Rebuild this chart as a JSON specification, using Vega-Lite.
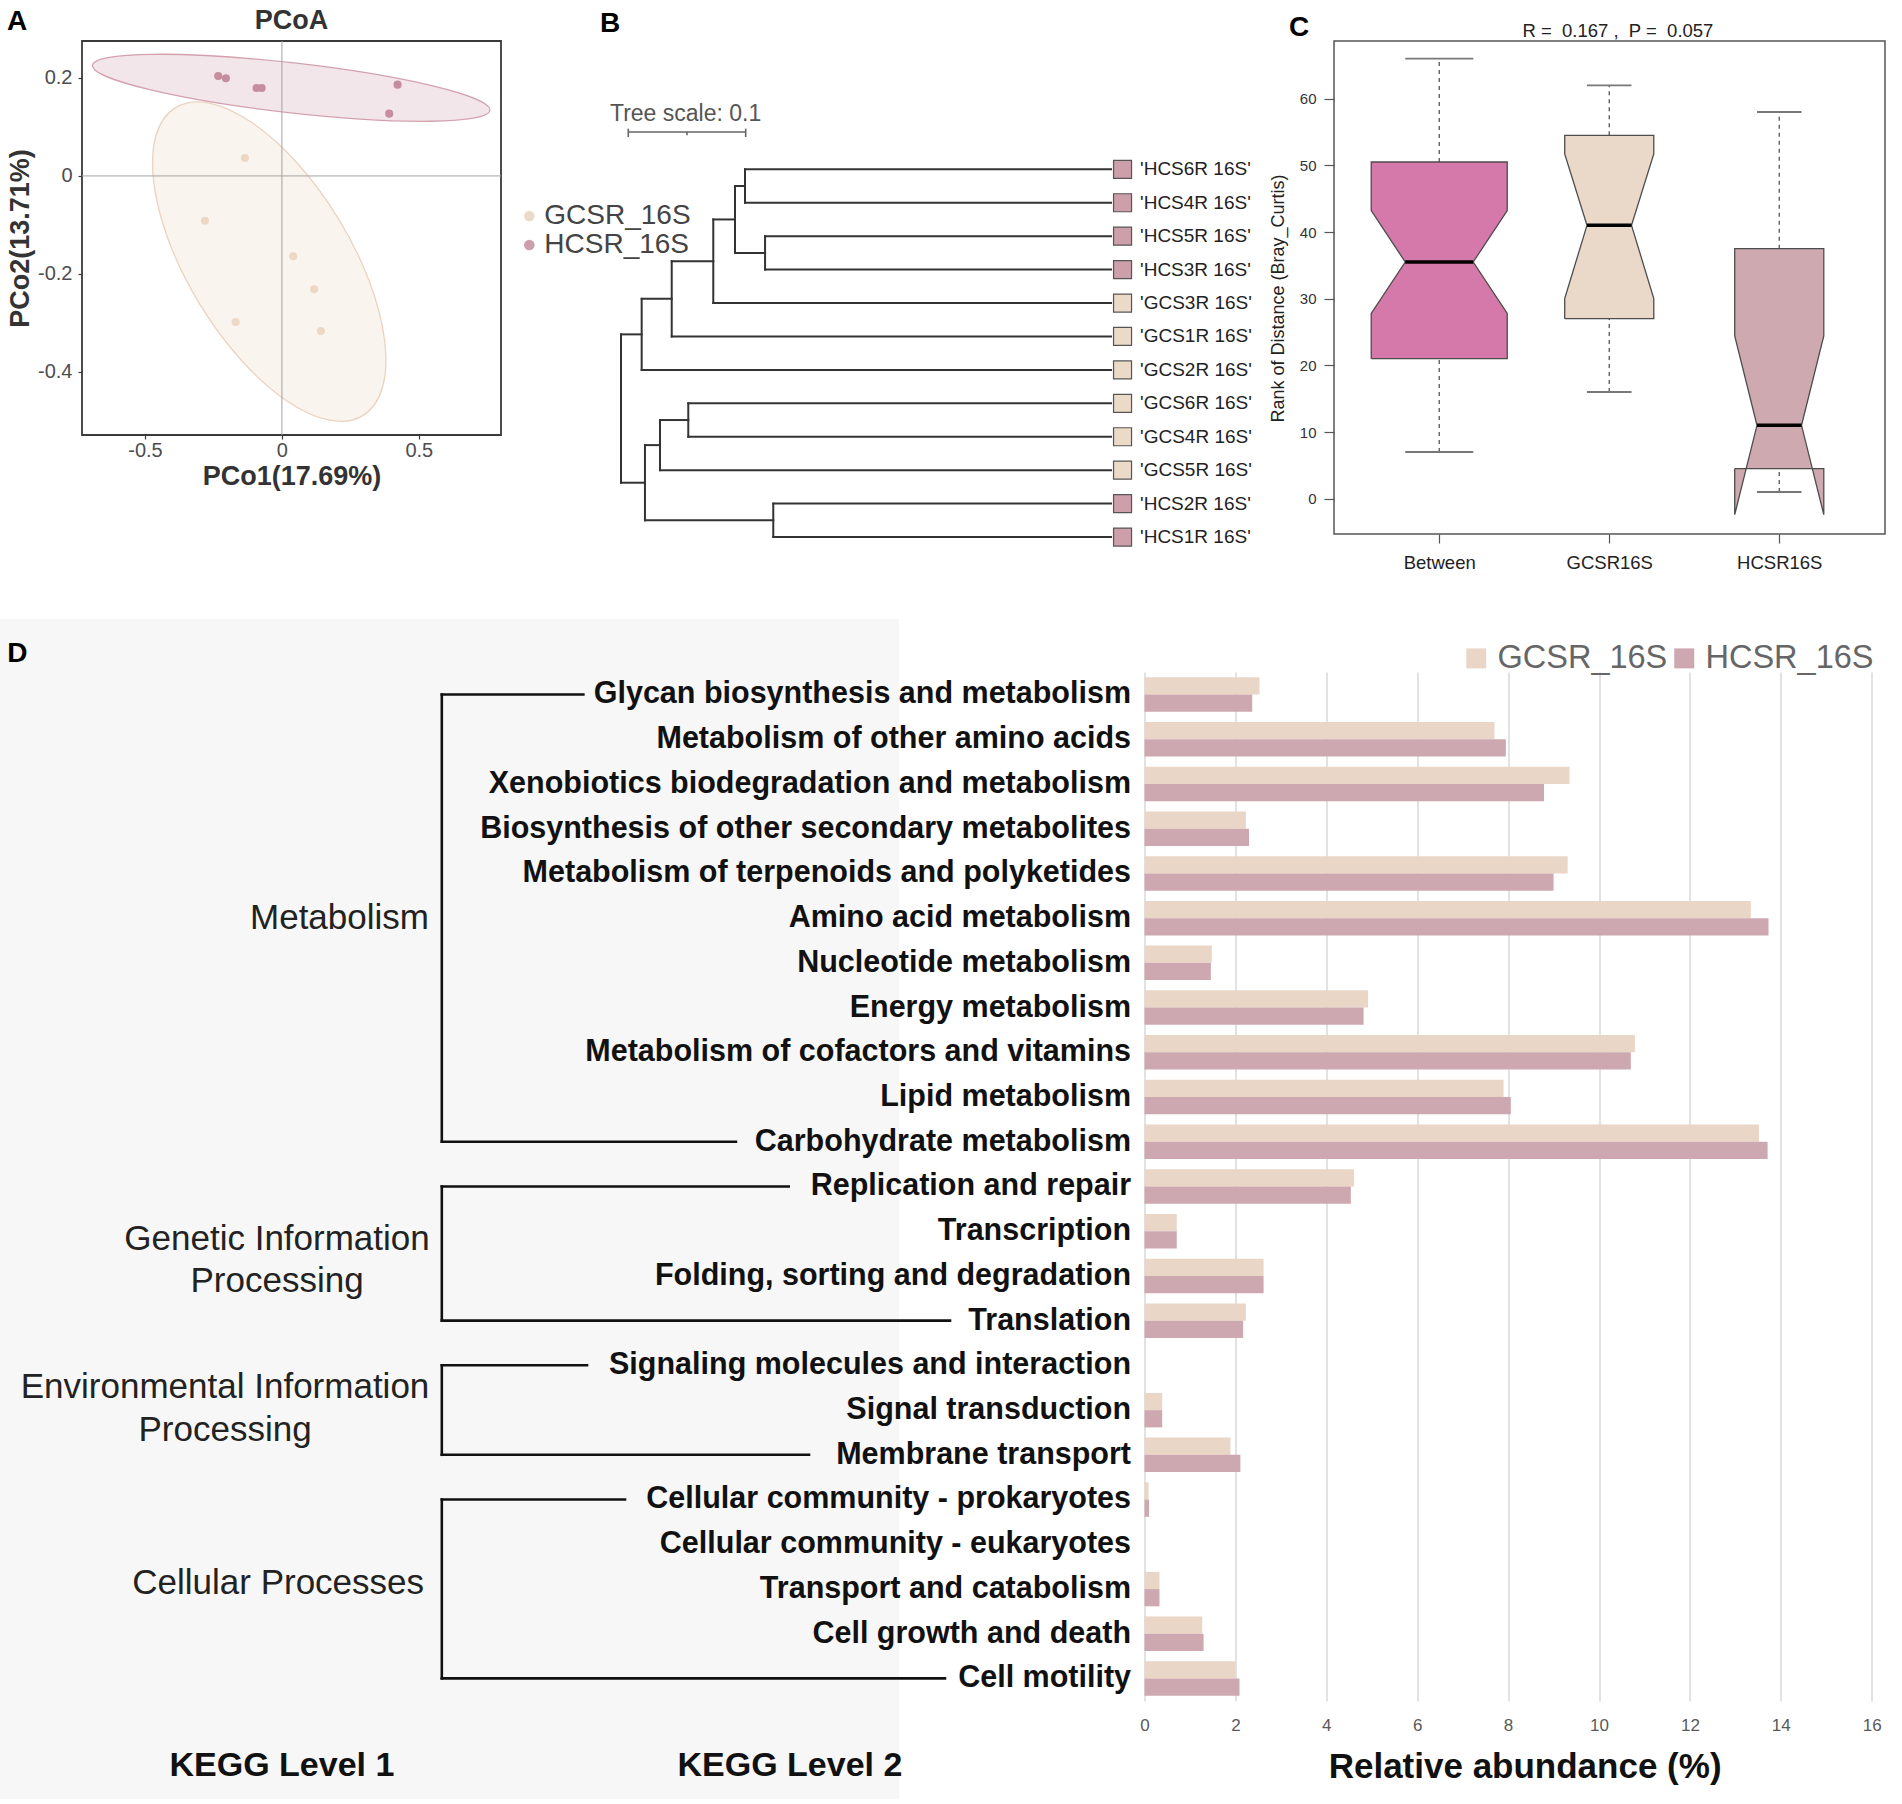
{
  "background": "white",
  "padding": {"left": 0, "top": 5, "right": 5, "bottom": 5},
  "config": {
    "font": "Liberation Sans",
    "view": {"stroke": null},
    "axis": {"labelFont": "Liberation Sans", "titleFont": "Liberation Sans"},
    "legend": {"labelFont": "Liberation Sans", "titleFont": "Liberation Sans"},
    "text": {"font": "Liberation Sans"}
  },
  "datasets": {
    "pcoa": [
      {"g": "HCSR_16S", "x": -0.2326, "y": 0.2041},
      {"g": "HCSR_16S", "x": -0.2045, "y": 0.1994},
      {"g": "HCSR_16S", "x": -0.0924, "y": 0.1796},
      {"g": "HCSR_16S", "x": -0.0741, "y": 0.1796},
      {"g": "HCSR_16S", "x": 0.4224, "y": 0.1863},
      {"g": "HCSR_16S", "x": 0.3918, "y": 0.1271},
      {"g": "GCSR_16S", "x": -0.1351, "y": 0.0366},
      {"g": "GCSR_16S", "x": -0.2811, "y": -0.0914},
      {"g": "GCSR_16S", "x": 0.0413, "y": -0.1641},
      {"g": "GCSR_16S", "x": 0.1179, "y": -0.2315},
      {"g": "GCSR_16S", "x": -0.169, "y": -0.2983},
      {"g": "GCSR_16S", "x": 0.1424, "y": -0.3166}
    ],
    "tree": [
      {"x": 0, "x2": 0.0176, "y": 5.9375, "y2": 5.9375},
      {"x": 0, "x2": 0.0204, "y": 10.375, "y2": 10.375},
      {"x": 0.0176, "x2": 0.0432, "y": 4.875, "y2": 4.875},
      {"x": 0.0176, "x2": 0.4174, "y": 7, "y2": 7},
      {"x": 0.0432, "x2": 0.0786, "y": 3.75, "y2": 3.75},
      {"x": 0.0432, "x2": 0.4174, "y": 6, "y2": 6},
      {"x": 0.0786, "x2": 0.0971, "y": 2.5, "y2": 2.5},
      {"x": 0.0786, "x2": 0.4174, "y": 5, "y2": 5},
      {"x": 0.0971, "x2": 0.1056, "y": 1.5, "y2": 1.5},
      {"x": 0.0971, "x2": 0.1227, "y": 3.5, "y2": 3.5},
      {"x": 0.1056, "x2": 0.4174, "y": 1, "y2": 1},
      {"x": 0.1056, "x2": 0.4174, "y": 2, "y2": 2},
      {"x": 0.1227, "x2": 0.4174, "y": 3, "y2": 3},
      {"x": 0.1227, "x2": 0.4174, "y": 4, "y2": 4},
      {"x": 0.0204, "x2": 0.0332, "y": 9.25, "y2": 9.25},
      {"x": 0.0204, "x2": 0.1297, "y": 11.5, "y2": 11.5},
      {"x": 0.0332, "x2": 0.0573, "y": 8.5, "y2": 8.5},
      {"x": 0.0332, "x2": 0.4174, "y": 10, "y2": 10},
      {"x": 0.0573, "x2": 0.4174, "y": 8, "y2": 8},
      {"x": 0.0573, "x2": 0.4174, "y": 9, "y2": 9},
      {"x": 0.1297, "x2": 0.4174, "y": 11, "y2": 11},
      {"x": 0.1297, "x2": 0.4174, "y": 12, "y2": 12},
      {"x": 0, "x2": 0, "y": 5.9375, "y2": 10.375},
      {"x": 0.0176, "x2": 0.0176, "y": 4.875, "y2": 7},
      {"x": 0.0432, "x2": 0.0432, "y": 3.75, "y2": 6},
      {"x": 0.0786, "x2": 0.0786, "y": 2.5, "y2": 5},
      {"x": 0.0971, "x2": 0.0971, "y": 1.5, "y2": 3.5},
      {"x": 0.1056, "x2": 0.1056, "y": 1, "y2": 2},
      {"x": 0.1227, "x2": 0.1227, "y": 3, "y2": 4},
      {"x": 0.0204, "x2": 0.0204, "y": 9.25, "y2": 11.5},
      {"x": 0.0332, "x2": 0.0332, "y": 8.5, "y2": 10},
      {"x": 0.0573, "x2": 0.0573, "y": 8, "y2": 9},
      {"x": 0.1297, "x2": 0.1297, "y": 11, "y2": 12}
    ],
    "tips": [
      {"name": "'HCS6R 16S'", "row": 1, "grp": "HCSR_16S"},
      {"name": "'HCS4R 16S'", "row": 2, "grp": "HCSR_16S"},
      {"name": "'HCS5R 16S'", "row": 3, "grp": "HCSR_16S"},
      {"name": "'HCS3R 16S'", "row": 4, "grp": "HCSR_16S"},
      {"name": "'GCS3R 16S'", "row": 5, "grp": "GCSR_16S"},
      {"name": "'GCS1R 16S'", "row": 6, "grp": "GCSR_16S"},
      {"name": "'GCS2R 16S'", "row": 7, "grp": "GCSR_16S"},
      {"name": "'GCS6R 16S'", "row": 8, "grp": "GCSR_16S"},
      {"name": "'GCS4R 16S'", "row": 9, "grp": "GCSR_16S"},
      {"name": "'GCS5R 16S'", "row": 10, "grp": "GCSR_16S"},
      {"name": "'HCS2R 16S'", "row": 11, "grp": "HCSR_16S"},
      {"name": "'HCS1R 16S'", "row": 12, "grp": "HCSR_16S"}
    ],
    "sbar": [
      {"x": 0.0062, "x2": 0.1062, "y": -0.116, "y2": -0.116},
      {"x": 0.0062, "x2": 0.0062, "y": -0.215, "y2": 0.034},
      {"x": 0.1062, "x2": 0.1062, "y": -0.215, "y2": 0.034},
      {"x": 0.0562, "x2": 0.0562, "y": -0.116, "y2": -0.017}
    ],
    "cstats": [
      {"g": "Between", "c": 1, "lo": 7, "q1": 21, "med": 35.5, "q3": 50.5, "hi": 66, "nl": 0.8, "nr": 1.2},
      {"g": "GCSR16S", "c": 2, "lo": 16, "q1": 27, "med": 41, "q3": 54.5, "hi": 62, "nl": 1.869, "nr": 2.131},
      {"g": "HCSR16S", "c": 3, "lo": 1, "q1": 4.5, "med": 11, "q3": 37.5, "hi": 58, "nl": 2.869, "nr": 3.131}
    ],
    "cpoly": [
      {"g": "Between", "k": 0, "px": 0.6, "py": 21},
      {"g": "Between", "k": 1, "px": 0.6, "py": 27.8},
      {"g": "Between", "k": 2, "px": 0.8, "py": 35.5},
      {"g": "Between", "k": 3, "px": 0.6, "py": 43.2},
      {"g": "Between", "k": 4, "px": 0.6, "py": 50.5},
      {"g": "Between", "k": 5, "px": 1.4, "py": 50.5},
      {"g": "Between", "k": 6, "px": 1.4, "py": 43.2},
      {"g": "Between", "k": 7, "px": 1.2, "py": 35.5},
      {"g": "Between", "k": 8, "px": 1.4, "py": 27.8},
      {"g": "Between", "k": 9, "px": 1.4, "py": 21},
      {"g": "Between", "k": 10, "px": 0.6, "py": 21},
      {"g": "GCSR16S", "k": 0, "px": 1.738, "py": 27},
      {"g": "GCSR16S", "k": 1, "px": 1.738, "py": 30},
      {"g": "GCSR16S", "k": 2, "px": 1.869, "py": 41},
      {"g": "GCSR16S", "k": 3, "px": 1.738, "py": 51.7},
      {"g": "GCSR16S", "k": 4, "px": 1.738, "py": 54.5},
      {"g": "GCSR16S", "k": 5, "px": 2.262, "py": 54.5},
      {"g": "GCSR16S", "k": 6, "px": 2.262, "py": 51.7},
      {"g": "GCSR16S", "k": 7, "px": 2.131, "py": 41},
      {"g": "GCSR16S", "k": 8, "px": 2.262, "py": 30},
      {"g": "GCSR16S", "k": 9, "px": 2.262, "py": 27},
      {"g": "GCSR16S", "k": 10, "px": 1.738, "py": 27},
      {"g": "HCSR16S", "k": 0, "px": 2.738, "py": 4.5},
      {"g": "HCSR16S", "k": 1, "px": 2.738, "py": -2.4},
      {"g": "HCSR16S", "k": 2, "px": 2.869, "py": 11},
      {"g": "HCSR16S", "k": 3, "px": 2.738, "py": 24.4},
      {"g": "HCSR16S", "k": 4, "px": 2.738, "py": 37.5},
      {"g": "HCSR16S", "k": 5, "px": 3.262, "py": 37.5},
      {"g": "HCSR16S", "k": 6, "px": 3.262, "py": 24.4},
      {"g": "HCSR16S", "k": 7, "px": 3.131, "py": 11},
      {"g": "HCSR16S", "k": 8, "px": 3.262, "py": -2.4},
      {"g": "HCSR16S", "k": 9, "px": 3.262, "py": 4.5},
      {"g": "HCSR16S", "k": 10, "px": 2.738, "py": 4.5}
    ],
    "kegg": [
      {"row": 1, "name": "Glycan biosynthesis and metabolism", "GCSR_16S": 2.53, "HCSR_16S": 2.37},
      {"row": 2, "name": "Metabolism of other amino acids", "GCSR_16S": 7.7, "HCSR_16S": 7.95},
      {"row": 3, "name": "Xenobiotics biodegradation and metabolism", "GCSR_16S": 9.35, "HCSR_16S": 8.79},
      {"row": 4, "name": "Biosynthesis of other secondary metabolites", "GCSR_16S": 2.23, "HCSR_16S": 2.3},
      {"row": 5, "name": "Metabolism of terpenoids and polyketides", "GCSR_16S": 9.31, "HCSR_16S": 9.0},
      {"row": 6, "name": "Amino acid metabolism", "GCSR_16S": 13.34, "HCSR_16S": 13.73},
      {"row": 7, "name": "Nucleotide metabolism", "GCSR_16S": 1.48, "HCSR_16S": 1.46},
      {"row": 8, "name": "Energy metabolism", "GCSR_16S": 4.92, "HCSR_16S": 4.82},
      {"row": 9, "name": "Metabolism of cofactors and vitamins", "GCSR_16S": 10.79, "HCSR_16S": 10.7},
      {"row": 10, "name": "Lipid metabolism", "GCSR_16S": 7.9, "HCSR_16S": 8.06},
      {"row": 11, "name": "Carbohydrate metabolism", "GCSR_16S": 13.52, "HCSR_16S": 13.71},
      {"row": 12, "name": "Replication and repair", "GCSR_16S": 4.61, "HCSR_16S": 4.54},
      {"row": 13, "name": "Transcription", "GCSR_16S": 0.71, "HCSR_16S": 0.71},
      {"row": 14, "name": "Folding, sorting and degradation", "GCSR_16S": 2.62, "HCSR_16S": 2.62},
      {"row": 15, "name": "Translation", "GCSR_16S": 2.23, "HCSR_16S": 2.17},
      {"row": 16, "name": "Signaling molecules and interaction", "GCSR_16S": 0.0, "HCSR_16S": 0.0},
      {"row": 17, "name": "Signal transduction", "GCSR_16S": 0.39, "HCSR_16S": 0.39},
      {"row": 18, "name": "Membrane transport", "GCSR_16S": 1.89, "HCSR_16S": 2.11},
      {"row": 19, "name": "Cellular community - prokaryotes", "GCSR_16S": 0.09, "HCSR_16S": 0.1},
      {"row": 20, "name": "Cellular community - eukaryotes", "GCSR_16S": 0.0, "HCSR_16S": 0.0},
      {"row": 21, "name": "Transport and catabolism", "GCSR_16S": 0.33, "HCSR_16S": 0.33},
      {"row": 22, "name": "Cell growth and death", "GCSR_16S": 1.27, "HCSR_16S": 1.3},
      {"row": 23, "name": "Cell motility", "GCSR_16S": 2.0, "HCSR_16S": 2.09}
    ],
    "brk": [
      {"x": 49.2, "x2": 49.2, "y": 1, "y2": 11},
      {"x": 49.2, "x2": 64.96, "y": 1, "y2": 1},
      {"x": 49.2, "x2": 81.95, "y": 11, "y2": 11},
      {"x": 49.2, "x2": 49.2, "y": 12, "y2": 15},
      {"x": 49.2, "x2": 87.83, "y": 12, "y2": 12},
      {"x": 49.2, "x2": 105.79, "y": 15, "y2": 15},
      {"x": 49.2, "x2": 49.2, "y": 16, "y2": 18},
      {"x": 49.2, "x2": 65.37, "y": 16, "y2": 16},
      {"x": 49.2, "x2": 90.09, "y": 18, "y2": 18},
      {"x": 49.2, "x2": 49.2, "y": 19, "y2": 23},
      {"x": 49.2, "x2": 69.6, "y": 19, "y2": 19},
      {"x": 49.2, "x2": 105.23, "y": 23, "y2": 23}
    ],
    "lvl1": [
      {"t": "Metabolism", "x": 47.77, "y": 6, "m": 0},
      {"t": "Cellular Processes", "x": 47.22, "y": 20.87, "m": 0},
      {"t": "Genetic Information\nProcessing", "x": 30.85, "y": 13.65, "m": 1},
      {"t": "Environmental Information\nProcessing", "x": 25.06, "y": 16.97, "m": 1}
    ],
    "foot": [
      {"t": "KEGG Level 1", "x": 31.4, "y": 24.96},
      {"t": "KEGG Level 2", "x": 87.97, "y": 24.96}
    ]
  },
  "bounds": "flush",
  "spacing": 631,
  "resolve": {"scale": {"color": "independent"}, "legend": {"color": "independent"}},
  "vconcat": [
    {
      "bounds": "flush",
      "spacing": 10,
      "resolve": {"scale": {"color": "independent"}, "legend": {"color": "independent"}},
      "hconcat": [
        {"width": 72, "height": 10, "data": {"values": []}, "mark": "point"},
        {
          "width": 419,
          "height": 394,
          "view": {"stroke": "#3a3a3a", "strokeWidth": 1.8},
          "layer": [
            {
              "data": {"values": [{}]},
              "mark": {"type": "point", "shape": "M -1 0 C -1 -0.2496 -0.5523 -0.452 0 -0.452 C 0.5523 -0.452 1 -0.2496 1 0 C 1 0.2496 0.5523 0.452 0 0.452 C -0.5523 0.452 -1 0.2496 -1 0 Z", "size": 129888, "angle": 58.7, "filled": true, "fill": "#efdccb", "fillOpacity": 0.32, "stroke": "#ead3c1", "strokeWidth": 1.3, "strokeOpacity": 1, "opacity": 1},
              "encoding": {
                "x": {"datum": -0.0464, "type": "quantitative", "scale": {"domain": [-0.73, 0.8], "nice": false, "zero": false}, "axis": {"values": [-0.5, 0, 0.5], "labelExpr": "toString(datum.value)", "grid": false, "domain": false, "tickSize": 4, "tickColor": "#3a3a3a", "tickWidth": 1.2, "labelFontSize": 20, "labelColor": "#4d4d4d", "labelPadding": 1, "labelFlush": false, "title": "PCo1(17.69%)", "titleFontSize": 27, "titleFontWeight": "bold", "titleColor": "#333333", "titleBaseline": "alphabetic", "titleY": 49}},
                "y": {"datum": -0.175, "type": "quantitative", "scale": {"domain": [-0.529, 0.2755], "nice": false, "zero": false}, "axis": {"values": [-0.4, -0.2, 0, 0.2], "labelExpr": "toString(datum.value)", "grid": false, "domain": false, "tickSize": 4, "tickColor": "#3a3a3a", "tickWidth": 1.2, "labelFontSize": 20, "labelColor": "#4d4d4d", "labelPadding": 6, "labelFlush": false, "title": "PCo2(13.71%)", "titleFontSize": 27, "titleFontWeight": "bold", "titleColor": "#333333", "titleBaseline": "middle", "titleX": -62}}
              }
            },
            {
              "data": {"values": [{}]},
              "mark": {"type": "point", "shape": "M -1 0 C -1 -0.069 -0.5523 -0.125 0 -0.125 C 0.5523 -0.125 1 -0.069 1 0 C 1 0.069 0.5523 0.125 0 0.125 C -0.5523 0.125 -1 0.069 -1 0 Z", "size": 160000, "angle": 6.46, "filled": true, "fill": "#c98fa0", "fillOpacity": 0.22, "stroke": "#d3a1ae", "strokeWidth": 1.3, "strokeOpacity": 1, "opacity": 1},
              "encoding": {
                "x": {"datum": 0.034, "type": "quantitative"},
                "y": {"datum": 0.18, "type": "quantitative"}
              }
            },
            {
              "data": {"values": [{}]},
              "mark": {"type": "rule", "color": "#a3a3a3", "strokeWidth": 1},
              "encoding": {"x": {"datum": 0, "type": "quantitative"}}
            },
            {
              "data": {"values": [{}]},
              "mark": {"type": "rule", "color": "#a3a3a3", "strokeWidth": 1},
              "encoding": {"y": {"datum": 0, "type": "quantitative"}}
            },
            {
              "data": {"name": "pcoa"},
              "mark": {"type": "point", "filled": true, "size": 66, "opacity": 1},
              "encoding": {
                "x": {"field": "x", "type": "quantitative"},
                "y": {"field": "y", "type": "quantitative"},
                "color": {"field": "g", "type": "nominal", "scale": {"domain": ["GCSR_16S", "HCSR_16S"], "range": ["#edd8c6", "#c68d9e"]}, "legend": null}
              }
            },
            {
              "data": {"values": [{}]},
              "mark": {"type": "text", "text": "PCoA", "fontSize": 27, "fontWeight": "bold", "color": "#333333", "align": "center", "baseline": "alphabetic", "dy": -12.5},
              "encoding": {"x": {"datum": 0.035, "type": "quantitative"}, "y": {"datum": 0.2755, "type": "quantitative"}}
            },
            {
              "data": {"values": [{}]},
              "mark": {"type": "text", "text": "A", "fontSize": 28, "fontWeight": "bold", "color": "#000000", "align": "left", "baseline": "alphabetic", "dx": -75, "dy": -11},
              "encoding": {"x": {"datum": -0.73, "type": "quantitative"}, "y": {"datum": 0.2755, "type": "quantitative"}}
            }
          ]
        },
        {
          "width": 813,
          "height": 493,
          "layer": [
            {
              "data": {"name": "tree"},
              "mark": {"type": "rule", "color": "#333333", "strokeWidth": 2, "strokeCap": "square"},
              "encoding": {
                "x": {"field": "x", "type": "quantitative", "scale": {"domain": [-0.0937, 0.5988], "nice": false, "zero": false}, "axis": null},
                "x2": {"field": "x2"},
                "y": {"field": "y", "type": "quantitative", "scale": {"domain": [-2.838, 11.909], "nice": false, "zero": false, "reverse": true}, "axis": null},
                "y2": {"field": "y2"}
              }
            },
            {
              "data": {"name": "sbar"},
              "mark": {"type": "rule", "color": "#666666", "strokeWidth": 1.6},
              "encoding": {
                "x": {"field": "x", "type": "quantitative", "axis": null},
                "x2": {"field": "x2"},
                "y": {"field": "y", "type": "quantitative", "axis": null},
                "y2": {"field": "y2"}
              }
            },
            {
              "data": {"values": [{}]},
              "mark": {"type": "text", "text": "Tree scale: 0.1", "fontSize": 23, "color": "#555555", "align": "left", "baseline": "alphabetic"},
              "encoding": {"x": {"datum": -0.0094, "type": "quantitative", "axis": null}, "y": {"datum": -0.436, "type": "quantitative", "axis": null}}
            },
            {
              "data": {"name": "tips"},
              "mark": {"type": "point", "shape": "square", "size": 324, "filled": true, "opacity": 1, "stroke": "#555555", "strokeWidth": 1.2},
              "encoding": {
                "x": {"datum": 0.4272, "type": "quantitative", "axis": null},
                "y": {"field": "row", "type": "quantitative", "axis": null},
                "color": {"field": "grp", "type": "nominal", "scale": {"domain": ["GCSR_16S", "HCSR_16S"], "range": ["#ecdac9", "#cc9fab"]}, "legend": {"orient": "none", "legendX": 4.3, "legendY": 161, "direction": "vertical", "title": null, "symbolType": "circle", "symbolSize": 113, "symbolStrokeWidth": 0, "symbolOpacity": 1, "labelFontSize": 28, "labelColor": "#444444", "labelOffset": 1, "labelLimit": 400, "rowPadding": 1, "padding": 0}}
              }
            },
            {
              "data": {"name": "tips"},
              "mark": {"type": "text", "align": "left", "baseline": "middle", "fontSize": 19, "color": "#222222", "dx": 29},
              "encoding": {
                "x": {"datum": 0.4174, "type": "quantitative", "axis": null},
                "y": {"field": "row", "type": "quantitative", "axis": null},
                "text": {"field": "name"}
              }
            },
            {
              "data": {"values": [{}]},
              "mark": {"type": "text", "text": "B", "fontSize": 28, "fontWeight": "bold", "color": "#000000", "align": "left", "baseline": "alphabetic", "dx": 89, "dy": -8.6},
              "encoding": {"x": {"datum": -0.0937, "type": "quantitative", "axis": null}, "y": {"datum": -2.838, "type": "quantitative", "axis": null}}
            }
          ]
        },
        {
          "width": 551,
          "height": 493,
          "view": {"stroke": "#555555", "strokeWidth": 1.5},
          "layer": [
            {
              "data": {"name": "cstats"},
              "mark": {"type": "rule", "color": "#555555", "strokeWidth": 1.3, "strokeDash": [4, 4]},
              "encoding": {
                "x": {"field": "c", "type": "quantitative", "scale": {"domain": [0.381, 3.622], "nice": false, "zero": false}, "axis": {"values": [1, 2, 3], "labelExpr": "datum.value == 1 ? 'Between' : datum.value == 2 ? 'GCSR16S' : 'HCSR16S'", "grid": false, "domain": false, "tickSize": 9, "tickColor": "#555555", "tickWidth": 1.2, "labelFontSize": 18.5, "labelColor": "#222222", "labelPadding": 10, "labelFlush": false, "title": null}},
                "y": {"field": "q3", "type": "quantitative", "scale": {"domain": [-5.3, 68.65], "nice": false, "zero": false}, "axis": {"values": [0, 10, 20, 30, 40, 50, 60], "grid": false, "domain": false, "tickSize": 10, "tickColor": "#555555", "tickWidth": 1.2, "labelFontSize": 15, "labelColor": "#333333", "labelPadding": 8, "labelFlush": false, "title": "Rank of Distance (Bray_Curtis)", "titleFontSize": 18, "titleFontWeight": "normal", "titleColor": "#222222", "titleBaseline": "middle", "titleX": -55.4, "titleY": 257}},
                "y2": {"field": "hi"}
              }
            },
            {
              "data": {"name": "cstats"},
              "mark": {"type": "rule", "color": "#555555", "strokeWidth": 1.3, "strokeDash": [4, 4]},
              "encoding": {
                "x": {"field": "c", "type": "quantitative"},
                "y": {"field": "lo", "type": "quantitative"},
                "y2": {"field": "q1"}
              }
            },
            {
              "data": {"name": "cstats"},
              "mark": {"type": "rule", "color": "#777777", "strokeWidth": 1.8},
              "encoding": {
                "x": {"field": "nl", "type": "quantitative"},
                "x2": {"field": "nr"},
                "y": {"field": "hi", "type": "quantitative"}
              }
            },
            {
              "data": {"name": "cstats"},
              "mark": {"type": "rule", "color": "#777777", "strokeWidth": 1.8},
              "encoding": {
                "x": {"field": "nl", "type": "quantitative"},
                "x2": {"field": "nr"},
                "y": {"field": "lo", "type": "quantitative"}
              }
            },
            {
              "data": {"name": "cpoly"},
              "transform": [{"filter": "datum.g == 'Between'"}],
              "mark": {"type": "line", "fill": "#d479a9", "stroke": "#4d4d4d", "strokeWidth": 1.3, "strokeJoin": "miter", "interpolate": "linear"},
              "encoding": {
                "x": {"field": "px", "type": "quantitative"},
                "y": {"field": "py", "type": "quantitative"},
                "order": {"field": "k", "type": "quantitative"}
              }
            },
            {
              "data": {"name": "cpoly"},
              "transform": [{"filter": "datum.g == 'GCSR16S'"}],
              "mark": {"type": "line", "fill": "#ead8c8", "stroke": "#4d4d4d", "strokeWidth": 1.3, "strokeJoin": "miter", "interpolate": "linear"},
              "encoding": {
                "x": {"field": "px", "type": "quantitative"},
                "y": {"field": "py", "type": "quantitative"},
                "order": {"field": "k", "type": "quantitative"}
              }
            },
            {
              "data": {"name": "cpoly"},
              "transform": [{"filter": "datum.g == 'HCSR16S'"}],
              "mark": {"type": "line", "fill": "#cfa9b0", "stroke": "#4d4d4d", "strokeWidth": 1.3, "strokeJoin": "miter", "interpolate": "linear"},
              "encoding": {
                "x": {"field": "px", "type": "quantitative"},
                "y": {"field": "py", "type": "quantitative"},
                "order": {"field": "k", "type": "quantitative"}
              }
            },
            {
              "data": {"name": "cstats"},
              "mark": {"type": "rule", "color": "#000000", "strokeWidth": 3.5},
              "encoding": {
                "x": {"field": "nl", "type": "quantitative"},
                "x2": {"field": "nr"},
                "y": {"field": "med", "type": "quantitative"}
              }
            },
            {
              "data": {"values": [{}]},
              "mark": {"type": "text", "text": "R =\u00a0 0.167 ,\u00a0 P =\u00a0 0.057", "fontSize": 18.5, "color": "#222222", "align": "center", "baseline": "alphabetic", "dy": -4},
              "encoding": {"x": {"datum": 2.051, "type": "quantitative"}, "y": {"datum": 68.65, "type": "quantitative"}}
            },
            {
              "data": {"values": [{}]},
              "mark": {"type": "text", "text": "C", "fontSize": 28, "fontWeight": "bold", "color": "#000000", "align": "left", "baseline": "alphabetic", "dx": -45, "dy": -5},
              "encoding": {"x": {"datum": 0.381, "type": "quantitative"}, "y": {"datum": 68.65, "type": "quantitative"}}
            }
          ]
        }
      ]
    },
    {
      "bounds": "flush",
      "spacing": 246.5,
      "resolve": {"scale": {"color": "independent"}, "legend": {"color": "independent"}},
      "hconcat": [
        {
          "width": 898,
          "height": 1125,
          "layer": [
            {
              "data": {"values": [{}]},
              "mark": {"type": "rect", "color": "#f7f7f7"},
              "encoding": {
                "x": {"datum": 0, "type": "quantitative", "scale": {"domain": [0, 100], "nice": false, "zero": false}, "axis": null},
                "x2": {"datum": 100.1},
                "y": {"datum": -0.688, "type": "quantitative", "scale": {"domain": [0.4969, 25.653], "nice": false, "zero": false, "reverse": true}, "axis": null},
                "y2": {"datum": 25.698}
              }
            },
            {
              "data": {"name": "brk"},
              "mark": {"type": "rule", "color": "#111111", "strokeWidth": 2.6, "strokeCap": "square"},
              "encoding": {
                "x": {"field": "x", "type": "quantitative", "axis": null},
                "x2": {"field": "x2"},
                "y": {"field": "y", "type": "quantitative", "axis": null},
                "y2": {"field": "y2"}
              }
            },
            {
              "data": {"name": "kegg"},
              "mark": {"type": "text", "align": "right", "baseline": "middle", "fontSize": 30.5, "fontWeight": "bold", "color": "#111111"},
              "encoding": {
                "x": {"datum": 125.95, "type": "quantitative", "axis": null},
                "y": {"field": "row", "type": "quantitative", "axis": null},
                "text": {"field": "name"}
              }
            },
            {
              "data": {"name": "lvl1"},
              "transform": [{"filter": "datum.m == 0"}],
              "mark": {"type": "text", "align": "right", "baseline": "middle", "fontSize": 35, "color": "#222222"},
              "encoding": {
                "x": {"field": "x", "type": "quantitative", "axis": null},
                "y": {"field": "y", "type": "quantitative", "axis": null},
                "text": {"field": "t"}
              }
            },
            {
              "data": {"name": "lvl1"},
              "transform": [{"filter": "datum.m == 1"}],
              "mark": {"type": "text", "align": "center", "baseline": "middle", "fontSize": 35, "color": "#222222", "lineBreak": "\n", "lineHeight": 42.5, "dy": -21.25},
              "encoding": {
                "x": {"field": "x", "type": "quantitative", "axis": null},
                "y": {"field": "y", "type": "quantitative", "axis": null},
                "text": {"field": "t"}
              }
            },
            {
              "data": {"name": "foot"},
              "mark": {"type": "text", "align": "center", "baseline": "middle", "fontSize": 34, "fontWeight": "bold", "color": "#111111"},
              "encoding": {
                "x": {"field": "x", "type": "quantitative", "axis": null},
                "y": {"field": "y", "type": "quantitative", "axis": null},
                "text": {"field": "t"}
              }
            },
            {
              "data": {"values": [{}]},
              "mark": {"type": "text", "text": "D", "fontSize": 28, "fontWeight": "bold", "color": "#000000", "align": "left", "baseline": "alphabetic", "dx": 7.3, "dy": -10},
              "encoding": {"x": {"datum": 0, "type": "quantitative", "axis": null}, "y": {"datum": 0.4969, "type": "quantitative", "axis": null}}
            }
          ]
        },
        {
          "width": 727.2,
          "height": 1029,
          "data": {"name": "kegg"},
          "transform": [{"fold": ["GCSR_16S", "HCSR_16S"], "as": ["grp", "v"]}],
          "mark": {"type": "bar"},
          "encoding": {
            "y": {"field": "name", "type": "nominal", "sort": {"field": "row", "op": "min"}, "scale": {"paddingInner": 0.2285, "paddingOuter": 0.117}, "axis": null},
            "yOffset": {"field": "grp", "type": "nominal", "scale": {"paddingInner": 0, "paddingOuter": 0}},
            "x": {"field": "v", "type": "quantitative", "scale": {"domain": [0, 16], "nice": false}, "axis": {"values": [0, 2, 4, 6, 8, 10, 12, 14, 16], "grid": true, "gridColor": "#d9d9d9", "gridWidth": 1.5, "domain": false, "ticks": false, "tickSize": 0, "labelFontSize": 17, "labelColor": "#595959", "labelPadding": 16, "labelFlush": false, "title": "Relative abundance (%)", "titleFontSize": 35, "titleFontWeight": "bold", "titleColor": "#111111", "titleX": 380.1, "titleY": 65.3, "titleBaseline": "middle", "titleAlign": "center"}},
            "color": {"field": "grp", "type": "nominal", "scale": {"domain": ["GCSR_16S", "HCSR_16S"], "range": ["#e9d6c7", "#cea8b0"]}, "legend": {"orient": "none", "legendX": 315.5, "legendY": -30, "direction": "horizontal", "title": null, "symbolType": "square", "symbolSize": 400, "symbolStrokeWidth": 0, "symbolOpacity": 1, "labelFontSize": 32.5, "labelColor": "#666666", "labelOffset": 5, "labelLimit": 400, "columnPadding": 0, "padding": 0}}
          }
        }
      ]
    }
  ]
}
